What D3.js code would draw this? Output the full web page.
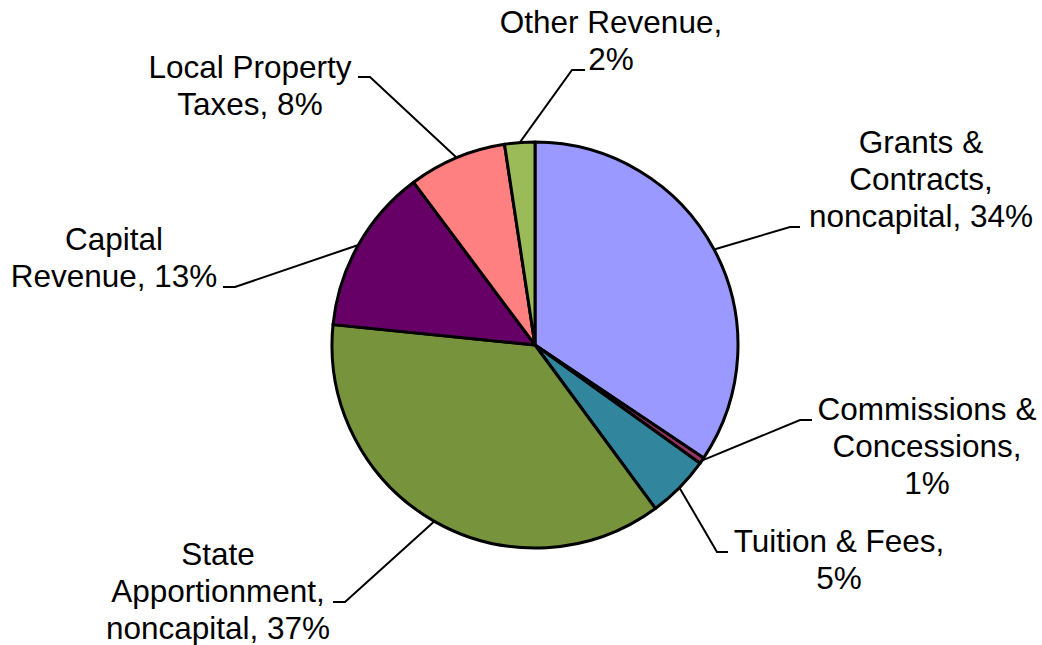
<!DOCTYPE html>
<html>
<head>
<meta charset="utf-8">
<script src="https://cdn.jsdelivr.net/npm/d3@7"></script>
<style>
  html, body { margin: 0; padding: 0; background: #fff; }
  #pie-chart { width: 1042px; height: 645px; }
  text { font-family: "Liberation Sans", Arial, sans-serif; font-size: 31.5px; fill: #000; }
</style>
</head>
<body>
<div id="pie-chart"></div>
<script>
const categories = [
  "Grants & Contracts, noncapital",
  "Commissions & Concessions",
  "Tuition & Fees",
  "State Apportionment, noncapital",
  "Capital Revenue",
  "Local Property Taxes",
  "Other Revenue",
];
const values = [34.4, 0.5, 5.0, 36.7, 13.2, 7.8, 2.4];
const colors = ["#9999ff", "#993366", "#31859c", "#77933c", "#660066", "#ff8080", "#9bbb59"];
// how each label wraps, {p} is the percentage
const labelLines = [
  ["Grants &", "Contracts,", "noncapital, {p}"],
  ["Commissions &", "Concessions,", "{p}"],
  ["Tuition & Fees,", "{p}"],
  ["State", "Apportionment,", "noncapital, {p}"],
  ["Capital", "Revenue, {p}"],
  ["Local Property", "Taxes, {p}"],
  ["Other Revenue,", "{p}"],
];

// label placement: text centre x, first baseline y, leader elbow, end of the short horizontal
const layout = [
  { x: 921, y: 153, elbow: [790, 227], end: 800 },
  { x: 927, y: 420, elbow: [800, 420], end: 812 },
  { x: 839, y: 552, elbow: [717, 552], end: 728 },
  { x: 218, y: 565, elbow: [345, 602], end: 333 },
  { x: 114, y: 250, elbow: [235, 287], end: 223 },
  { x: 250, y: 78, elbow: [370, 77], end: 358 },
  { x: 611, y: 33, elbow: [572, 70], end: 585 },
];

const width = 1042;
const height = 645;
const cx = 535;
const cy = 345;
const radius = 203;
const lineHeight = 37;

const svg = d3.select("#pie-chart").append("svg")
  .attr("width", width)
  .attr("height", height);

const total = d3.sum(values);
const pct = d3.format(".0%");

const pie = d3.pie().sort(null).value((d) => d);
const arcs = pie(values);

const arc = d3.arc().innerRadius(0).outerRadius(radius);

const g = svg.append("g").attr("transform", `translate(${cx},${cy})`);

g.selectAll(".slice")
  .data(arcs)
  .enter()
  .append("path")
  .attr("class", "slice")
  .attr("d", arc)
  .attr("fill", (d, i) => colors[i])
  .attr("stroke", "#000")
  .attr("stroke-width", 3)
  .attr("stroke-linejoin", "round");

// leader lines from the middle of each slice's rim
const drawLeader = (d, i) => {
  const mid = (d.startAngle + d.endAngle) / 2;
  const p = d3.path();
  p.moveTo(cx + radius * Math.sin(mid), cy - radius * Math.cos(mid));
  p.lineTo(layout[i].elbow[0], layout[i].elbow[1]);
  p.lineTo(layout[i].end, layout[i].elbow[1]);
  return p;
};

svg.selectAll(".leader")
  .data(arcs)
  .enter()
  .append("path")
  .attr("class", "leader")
  .attr("fill", "none")
  .attr("stroke", "#000")
  .attr("stroke-width", 2)
  .attr("d", drawLeader);

const labels = svg.selectAll(".label")
  .data(arcs)
  .enter()
  .append("text")
  .attr("class", "label")
  .attr("text-anchor", "middle")
  .attr("x", (d, i) => layout[i].x)
  .attr("y", (d, i) => layout[i].y);

labels.each(function (d, i) {
  const t = d3.select(this);
  labelLines[i].forEach((line, j) => {
    t.append("tspan")
      .attr("x", layout[i].x)
      .attr("y", layout[i].y + j * lineHeight)
      .text(line.replace("{p}", pct(d.value / total)));
  });
});
</script>
</body>
</html>
